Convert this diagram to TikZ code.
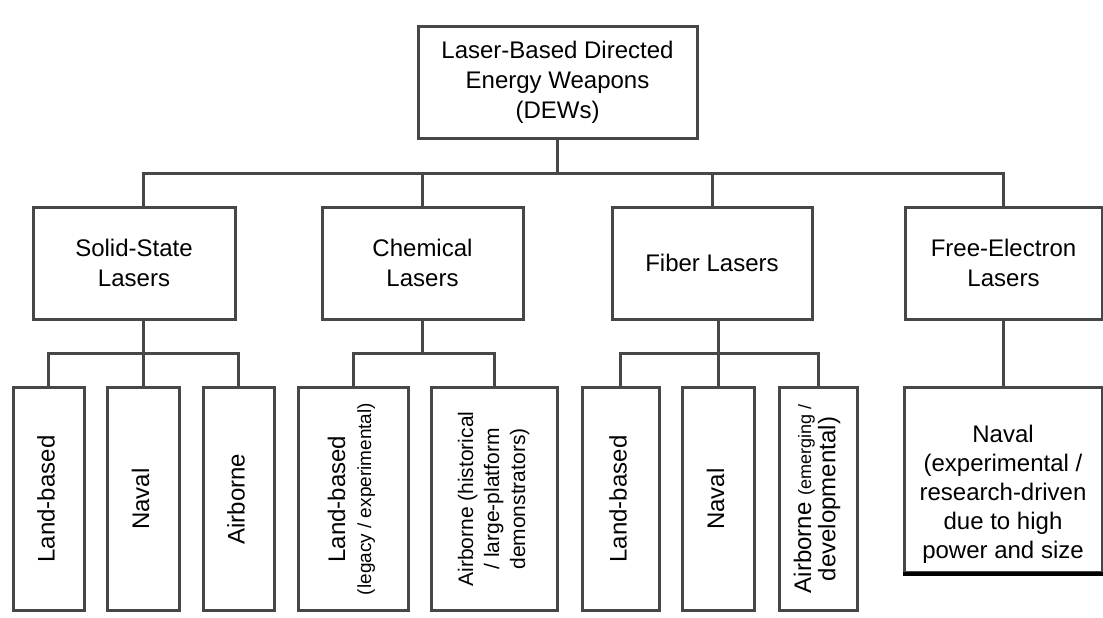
\documentclass[tikz,border=0pt]{standalone}
\usepackage{fontspec}
\setmainfont{Liberation Sans}
\usepackage{graphicx}
\newcommand{\vtext}[2][]{\rotatebox{90}{#1\begin{tabular}{@{}c@{}}#2\end{tabular}}}
\begin{document}
\begin{tikzpicture}[x=0.5pt,y=-0.5pt]

\tikzset{%
  box/.style={draw=black!72,line width=1.5pt,fill=white,inner sep=0pt,align=center,font=\fontsize{12}{15}\selectfont},
  leaf/.style={box,minimum height=111.75pt},
  link/.style={draw=black!72,line width=1.5pt},
}

\useasboundingbox[fill=white] (0,0) rectangle (1103,617);

\node[box,minimum width=139.5pt,minimum height=56pt] (root) at (557.5,82) {Laser-Based Directed\\Energy Weapons\\(DEWs)};

\node[box,minimum width=101pt,minimum height=56pt] (c1) at (134,263) {Solid-State\\Lasers};
\node[box,minimum width=100.5pt,minimum height=56pt] (c2) at (422.5,263) {Chemical\\Lasers};
\node[box,minimum width=100pt,minimum height=56pt] (c3) at (712,263) {Fiber Lasers};
\node[box,minimum width=98.5pt,minimum height=56pt] (c4) at (1003.5,263) {Free-Electron\\Lasers};

\node[leaf,minimum width=35.5pt] (l1) at (48.5,499) {\vtext{Land-based}};
\node[leaf,minimum width=36pt] (l2) at (143,499) {\vtext{Naval}};
\node[leaf,minimum width=35.5pt] (l3) at (238.5,499) {\vtext{Airborne}};
\node[leaf,minimum width=55pt] (l4) at (353,499) {\vtext[\fontsize{12}{13}\selectfont]{Land-based\\{\fontsize{9.5}{11}\selectfont(legacy / experimental)}}};
\node[leaf,minimum width=63pt] (l5) at (494,499) {\vtext[\fontsize{10.5}{13}\selectfont]{Airborne (historical\\/ large-platform\\demonstrators)}};
\node[leaf,minimum width=38.5pt] (l6) at (620.5,499) {\vtext{Land-based}};
\node[leaf,minimum width=36pt] (l7) at (718,499) {\vtext{Naval}};
\node[leaf,minimum width=39pt] (l8) at (818,499) {\vtext[\fontsize{12}{11.5}\selectfont]{Airborne {\fontsize{9}{11}\selectfont(emerging /}\\developmental)}};

\node[box,minimum width=99pt,minimum height=92.5pt] (l9) at (1003,479.5) {};
\node[align=center,inner sep=0pt,font=\fontsize{12}{14.5}\selectfont] (l9text) at (1003,494) {Naval\\(experimental /\\research-driven\\due to high\\power and size};
\draw[line width=2pt,black] (l9.south west) -- (l9.south east);

\coordinate (topbar) at (557.5,173);
\draw[link] (root.south) -- (topbar);
\draw[link] (c1.north -| l2.north) |- (topbar) -| (c4.north);
\draw[link] (topbar) -| (c2.north);
\draw[link] (topbar) -| (c3.north);

\coordinate (ssbar) at (143,353);
\draw[link] (c1.south -| l2.north) -- (l2.north);
\draw[link] (l1.north) |- (ssbar) -| (l3.north);

\coordinate (chbar) at (422.5,353);
\draw[link] (c2.south) -- (chbar);
\draw[link] (l4.north) |- (chbar) -| (l5.north);

\coordinate (fibar) at (718,353);
\draw[link] (c3.south -| l7.north) -- (l7.north);
\draw[link] (l6.north) |- (fibar) -| (l8.north);

\draw[link] (c4.south) -- (c4.south |- l9.north);

\end{tikzpicture}
\end{document}
